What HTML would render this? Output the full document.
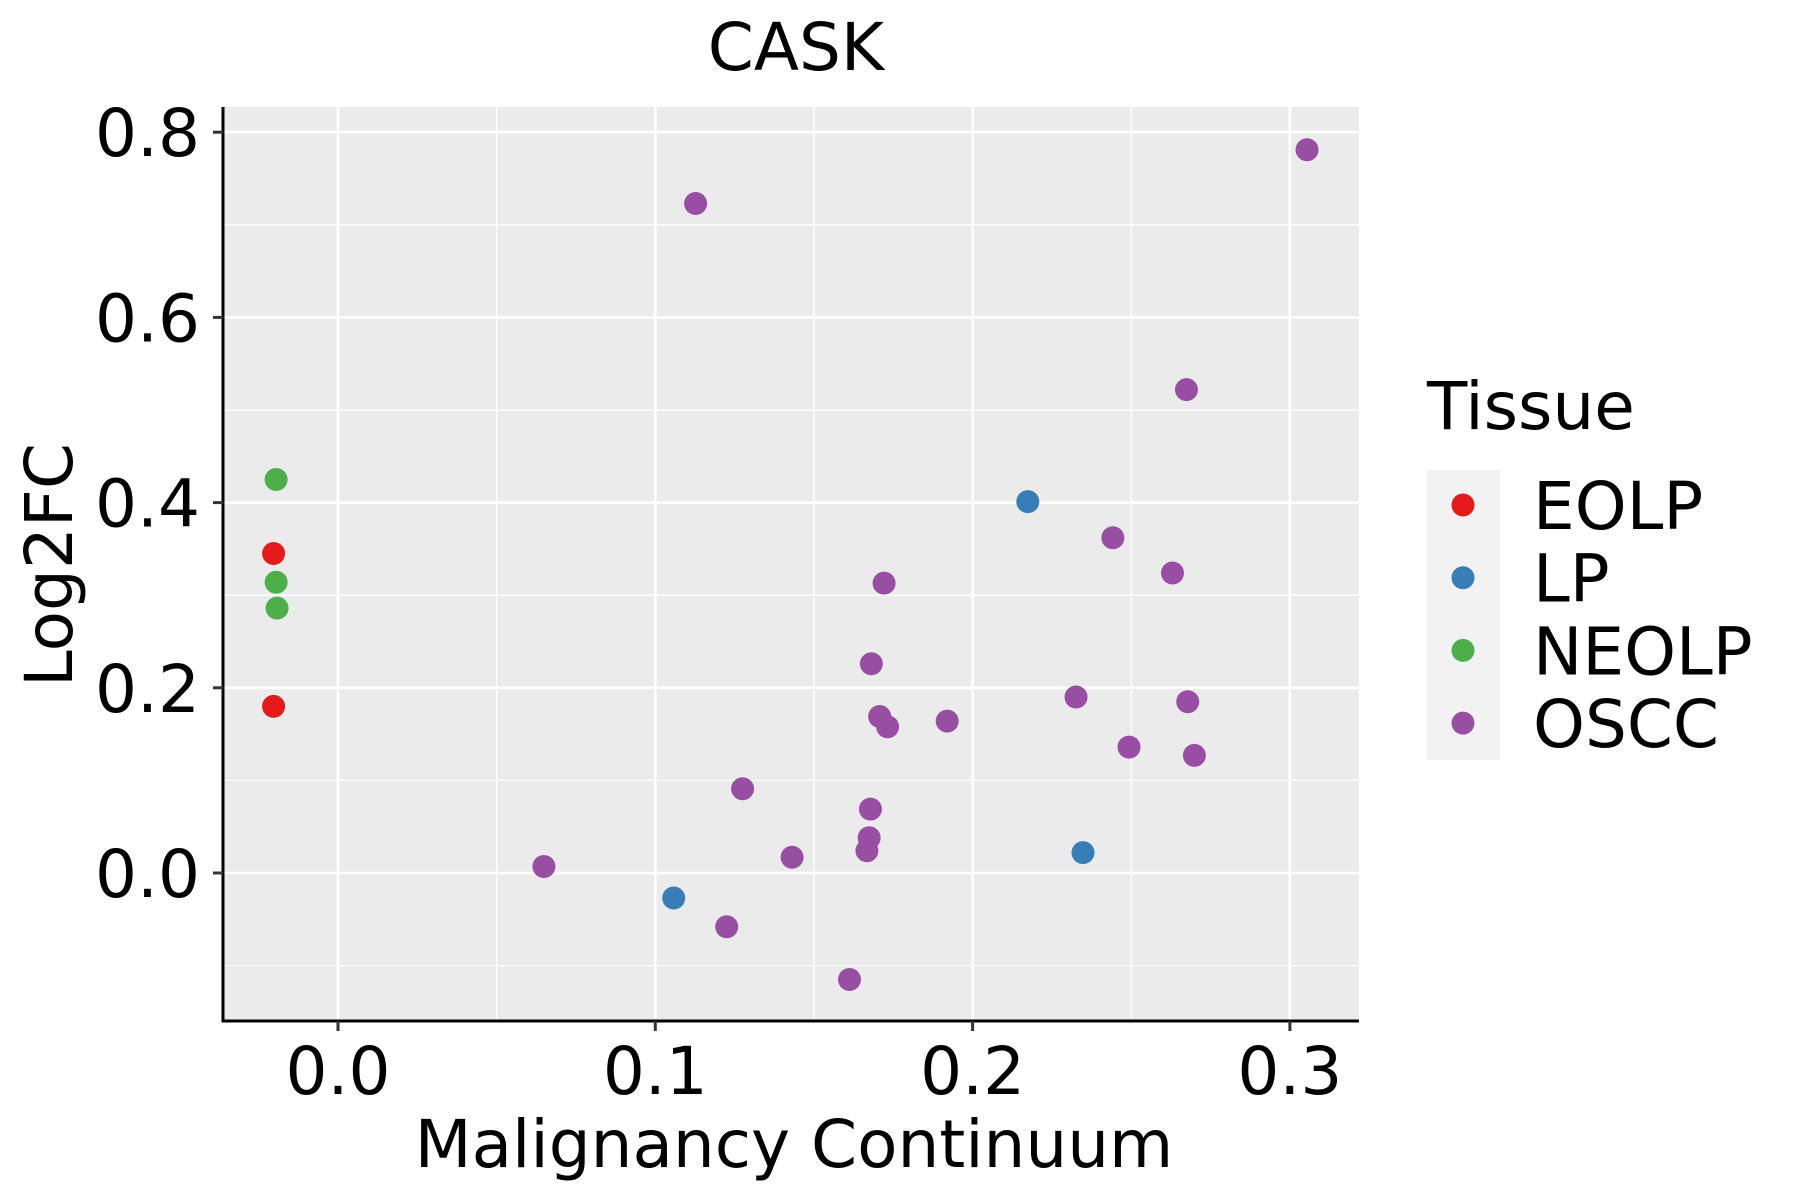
<!DOCTYPE html>
<html><head><meta charset="utf-8"><style>
html,body{margin:0;padding:0;background:#fff;}
svg{display:block;font-family:"DejaVu Sans","Liberation Sans",sans-serif;}
</style></head><body>
<svg id="chart" width="1800" height="1200" viewBox="0 0 1800 1200" xmlns="http://www.w3.org/2000/svg">
<text x="796" y="70" font-size="66" text-anchor="middle">CASK</text>
<rect x="223" y="107" width="1136" height="914" fill="#EBEBEB"/>
<g id="grid"></g>
<g id="points"></g>
<line x1="223" y1="107" x2="223" y2="1022.5" stroke="#000" stroke-width="3"/>
<line x1="221.5" y1="1021" x2="1359" y2="1021" stroke="#000" stroke-width="3"/>
<g id="axes"></g>
<text x="794" y="1167" font-size="66" text-anchor="middle">Malignancy Continuum</text>
<text transform="translate(72,565) rotate(-90)" font-size="66" text-anchor="middle">Log2FC</text>
<g>
<text x="1427" y="429" font-size="66">Tissue</text>
<rect x="1427" y="470" width="73" height="290" fill="#F2F2F2"/>
<g id="legend-items"></g>
</g>
</svg>
<script>
const xTicks=[0.0,0.1,0.2,0.3];
const xTickLabels=["0.0","0.1","0.2","0.3"];
const yTicks=[0.0,0.2,0.4,0.6,0.8];
const yTickLabels=["0.0","0.2","0.4","0.6","0.8"];
const xMinor=[0.05,0.15,0.25];
const yMinor=[-0.1,0.1,0.3,0.5,0.7];
const groups=["EOLP","LP","NEOLP","OSCC"];
const groupColors=["#E41A1C","#377EB8","#4DAF4A","#984EA3"];
const eolpX=[-0.0203,-0.0203];
const eolpY=[0.345,0.180];
const lpX=[0.2174,0.1058,0.2348];
const lpY=[0.401,-0.027,0.022];
const neolpX=[-0.0195,-0.0195,-0.0192];
const neolpY=[0.425,0.314,0.286];
const osccX=[0.1127,0.3054,0.2674,0.2442,0.263,0.1721,0.1681,0.2326,0.2678,0.1707,0.1732,0.192,0.2493,0.2699,0.1275,0.1678,0.1674,0.1667,0.1431,0.0649,0.1225,0.1612];
const osccY=[0.723,0.781,0.522,0.362,0.324,0.313,0.226,0.190,0.185,0.169,0.158,0.164,0.136,0.127,0.091,0.069,0.038,0.024,0.017,0.007,-0.058,-0.115];

const NS="http://www.w3.org/2000/svg";
const xS=v=>338+v*3173;
const yS=v=>873-v*926;
const L=223,R=1359,T=107,B=1021;
function mk(tag,attrs,parent){const e=document.createElementNS(NS,tag);for(const k in attrs)e.setAttribute(k,attrs[k]);parent.appendChild(e);return e;}
const grid=document.getElementById('grid');
xMinor.forEach(v=>{const e=mk('line',{x1:xS(v),x2:xS(v),y1:T,y2:B,stroke:'#fff','stroke-width':1.3},grid);

});
yMinor.forEach(v=>{const e=mk('line',{x1:L,x2:R,y1:yS(v),y2:yS(v),stroke:'#fff','stroke-width':1.3},grid);

});
const axes=document.getElementById('axes');
xTicks.forEach((v,i)=>{const e=mk('line',{x1:xS(v),x2:xS(v),y1:T,y2:B,stroke:'#fff','stroke-width':2.6},grid);


const t=mk('line',{x1:xS(v),x2:xS(v),y1:B,y2:B+10,stroke:'#333','stroke-width':3},axes);


const l=mk('text',{x:xS(v),y:1094,'font-size':66,'text-anchor':'middle'},axes);l.textContent=xTickLabels[i];

});
yTicks.forEach((v,i)=>{const e=mk('line',{x1:L,x2:R,y1:yS(v),y2:yS(v),stroke:'#fff','stroke-width':2.6},grid);


const t=mk('line',{x1:L-10,x2:L,y1:yS(v),y2:yS(v),stroke:'#333','stroke-width':3},axes);


const l=mk('text',{x:200,y:yS(v)+24,'font-size':66,'text-anchor':'end'},axes);l.textContent=yTickLabels[i];

});
const pts=document.getElementById('points');
const series=[[eolpX,eolpY],[lpX,lpY],[neolpX,neolpY],[osccX,osccY]];
series.forEach((s,gi)=>{s[0].forEach((xv,j)=>{const c=mk('circle',{cx:xS(xv),cy:yS(s[1][j]),r:11.5,fill:groupColors[gi]},pts);

});});
const leg=document.getElementById('legend-items');
groups.forEach((g,i)=>{const y=505+i*72.7;
const c=mk('circle',{cx:1463,cy:y,r:11.5,fill:groupColors[i]},leg);


const t=mk('text',{x:1533,y:y+24,'font-size':66},leg);t.textContent=g;

});
</script>
</body></html>
